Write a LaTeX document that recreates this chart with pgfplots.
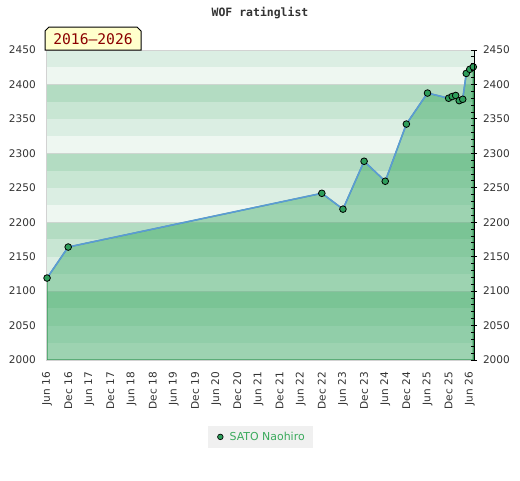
\documentclass[border=0pt]{standalone}
\usepackage{fontspec}
\setmainfont{DejaVu Sans}
\newfontfamily\monofont{DejaVu Sans Mono}
\usepackage{pgfplots}
\usepackage{pgfplotstable}
\pgfplotsset{compat=1.18}
\definecolor{sA}{HTML}{EEF7F1}
\definecolor{sB}{HTML}{DBEEE3}
\definecolor{sC}{HTML}{C8E6D3}
\definecolor{sD}{HTML}{B3DCC2}
\definecolor{fillgreen}{HTML}{2DA359}
\definecolor{edgegreen}{HTML}{3A9A5A}
\definecolor{linecol}{HTML}{5B9BD5}
\definecolor{markcol}{HTML}{2E9E5B}
\definecolor{txtgray}{HTML}{333333}
\definecolor{boxyellow}{HTML}{FFFFCC}
\definecolor{darkred}{HTML}{8B0000}
\definecolor{legbg}{HTML}{F0F0F0}
\definecolor{leggreen}{HTML}{3AAA5C}
\definecolor{gridc}{HTML}{CDD6D0}
\pgfplotstableread{
m r
0 2119
6 2164
78 2242
84 2219
90 2288.5
96 2259.5
102 2342.5
108 2387.5
114 2380
115 2382.5
116 2384
117 2376.5
118 2378.5
119 2416
120 2422
121 2425.5
}\ratings
\begin{document}
\begin{tikzpicture}
\path[use as bounding box] (0,0) rectangle (390pt,360pt);
\pgfplotsset{every axis/.append style={
  at={(34.5pt,90pt)}, anchor=south west, scale only axis,
  width=321pt, height=232.5pt,
  xmin=-0.3, xmax=121.2, ymin=2000, ymax=2450,
  /pgf/number format/assume math mode=true,
  /pgf/number format/set thousands separator={},
  tick label style={font=\fontsize{7.9}{9}\selectfont, text=txtgray},
}}
\begin{axis}[
  axis on top,
  axis line style={draw=gray!35, line width=0.75pt},
  ytick={2000,2050,...,2450},
  xtick={0,6,...,120},
  xticklabels={Jun 16,Dec 16,Jun 17,Dec 17,Jun 18,Dec 18,Jun 19,Dec 19,Jun 20,Dec 20,Jun 21,Dec 21,Jun 22,Dec 22,Jun 23,Dec 23,Jun 24,Dec 24,Jun 25,Dec 25,Jun 26},
  major tick length=0pt,
  tick style={draw=none},
  xticklabel style={rotate=90, anchor=east, inner sep=0pt},
  xticklabel shift=9pt,
  yticklabel style={anchor=east, inner sep=0pt},
  yticklabel shift=7.5pt,
  legend style={at={(0.502,-0.248)}, anchor=center, fill=legbg, draw=none,
    font=\fontsize{8.2}{10}\selectfont, text=leggreen, inner xsep=4.5pt, inner ysep=2.2pt},
  legend image code/.code={\path[draw=none,fill=none] (-4.5pt,0) -- (5pt,0); \draw[#1] plot coordinates {(0pt,0pt)};},
]
\fill[sA] (axis cs:-1,2000) rectangle (axis cs:122,2025);
\fill[sB] (axis cs:-1,2025) rectangle (axis cs:122,2050);
\fill[sC] (axis cs:-1,2050) rectangle (axis cs:122,2075);
\fill[sD] (axis cs:-1,2075) rectangle (axis cs:122,2100);
\fill[sA] (axis cs:-1,2100) rectangle (axis cs:122,2125);
\fill[sB] (axis cs:-1,2125) rectangle (axis cs:122,2150);
\fill[sC] (axis cs:-1,2150) rectangle (axis cs:122,2175);
\fill[sD] (axis cs:-1,2175) rectangle (axis cs:122,2200);
\fill[sA] (axis cs:-1,2200) rectangle (axis cs:122,2225);
\fill[sB] (axis cs:-1,2225) rectangle (axis cs:122,2250);
\fill[sC] (axis cs:-1,2250) rectangle (axis cs:122,2275);
\fill[sD] (axis cs:-1,2275) rectangle (axis cs:122,2300);
\fill[sA] (axis cs:-1,2300) rectangle (axis cs:122,2325);
\fill[sB] (axis cs:-1,2325) rectangle (axis cs:122,2350);
\fill[sC] (axis cs:-1,2350) rectangle (axis cs:122,2375);
\fill[sD] (axis cs:-1,2375) rectangle (axis cs:122,2400);
\fill[sA] (axis cs:-1,2400) rectangle (axis cs:122,2425);
\fill[sB] (axis cs:-1,2425) rectangle (axis cs:122,2450);
\draw[gridc, line width=0.75pt] (axis cs:-1,2100) -- (axis cs:122,2100);
\draw[gridc, line width=0.75pt] (axis cs:-1,2200) -- (axis cs:122,2200);
\draw[gridc, line width=0.75pt] (axis cs:-1,2300) -- (axis cs:122,2300);
\draw[gridc, line width=0.75pt] (axis cs:-1,2400) -- (axis cs:122,2400);
\addplot[draw=edgegreen, line width=0.9pt, fill=fillgreen, fill opacity=0.42, forget plot] table[x=m,y=r] {\ratings} \closedcycle;
\addplot[linecol, line width=1.2pt, mark=*, mark size=2.5pt,
  mark options={fill=markcol, draw=black, line width=0.6pt}, forget plot] table[x=m,y=r] {\ratings};
\addlegendimage{only marks, mark=*, mark size=2.1pt, mark options={fill=markcol, draw=black, line width=0.5pt}}
\addlegendentry{SATO Naohiro}
\end{axis}
\begin{axis}[
  axis y line*=right, hide x axis,
  axis line style={draw=black, line width=0.75pt},
  ytick={2000,2010,...,2450}, yticklabels={},
  tick align=inside, major tick length=2.2pt,
  tick style={draw=black, line width=0.75pt},
  extra y ticks={2000,2050,...,2450},
  extra y tick style={tick align=center, major tick length=4.5pt},
  yticklabel style={anchor=west, inner sep=0pt},
  yticklabel shift=4.3pt,
]
\addplot[draw=none, forget plot] coordinates {(0,2000)};
\end{axis}
\node[font=\monofont\bfseries\fontsize{8.6}{10}\selectfont, text=txtgray] at (195pt,350.25pt) {WOF ratinglist};
\draw[fill=boxyellow, line width=0.75pt] (33.75pt,322.5pt) -- (33.75pt,336.75pt) -- (36.75pt,339.75pt) -- (102.75pt,339.75pt) -- (105.75pt,336.75pt) -- (105.75pt,322.5pt) -- cycle;
\node[font=\monofont\fontsize{11}{13}\selectfont, text=darkred] at (69.75pt,331pt) {2016–2026};
\end{tikzpicture}
\end{document}
